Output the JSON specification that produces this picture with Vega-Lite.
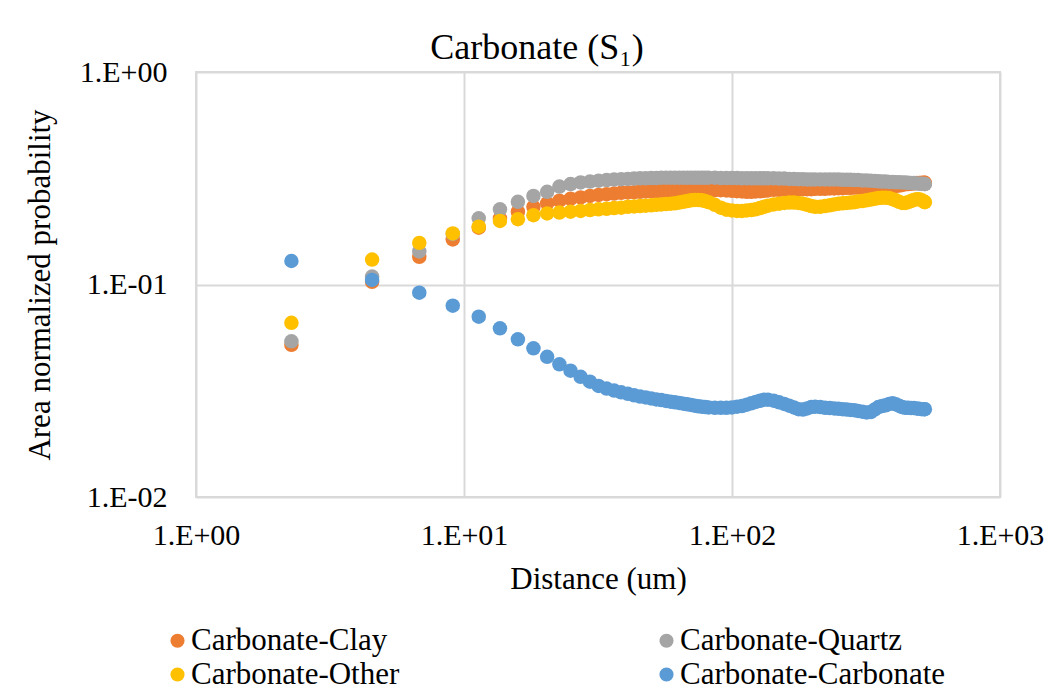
{
  "$schema": "https://vega.github.io/schema/vega-lite/v6.json",
  "width": 804,
  "height": 425,
  "autosize": {"type": "none"},
  "padding": {"left": 196, "top": 72, "right": 55, "bottom": 203},
  "background": "white",
  "title": {"text": "Carbonate (S₁)", "font": "Liberation Serif", "fontSize": 36, "fontWeight": "normal", "color": "black", "anchor": "middle", "dx": -61, "offset": -38, "baseline": "alphabetic"},
  "config": {
    "view": {"stroke": "#d9d9d9", "strokeWidth": 2},
    "axis": {"grid": true, "gridColor": "#d9d9d9", "gridWidth": 2, "ticks": false, "domain": false, "labelFont": "Liberation Serif", "labelFontSize": 30, "labelColor": "black", "titleFont": "Liberation Serif", "titleFontSize": 31, "titleFontWeight": "normal", "titleColor": "black", "labelFlush": false, "labelOverlap": false,
      "labelExpr": "'1.E' + (round(log(datum.value)/LN10) < 0 ? '-' : '+') + '0' + abs(round(log(datum.value)/LN10))"},
    "axisX": {"labelPadding": 23, "titlePadding": 14},
    "axisY": {"labelPadding": 29, "titlePadding": 23},
    "legend": {"orient": "none", "direction": "horizontal", "legendX": -34, "legendY": 553, "columns": 2, "columnPadding": 251, "rowPadding": 2, "symbolType": "circle", "symbolSize": 200, "symbolStrokeWidth": 0, "labelFont": "Liberation Serif", "labelFontSize": 31, "labelColor": "black", "labelOffset": -2, "labelLimit": 500, "title": null}
  },
  "data": {"values": [
    {"dist": 2.27, "clay": 0.052, "quartz": 0.054, "other": 0.066, "carb": 0.129},
    {"dist": 4.54, "clay": 0.103, "quartz": 0.109, "other": 0.131, "carb": 0.105},
    {"dist": 6.81, "clay": 0.135, "quartz": 0.143, "other": 0.157, "carb": 0.0915},
    {"dist": 9.08, "clay": 0.163, "quartz": 0.173, "other": 0.174, "carb": 0.0795},
    {"dist": 11.35, "clay": 0.185, "quartz": 0.205, "other": 0.187, "carb": 0.0706},
    {"dist": 13.62, "clay": 0.205, "quartz": 0.226, "other": 0.199, "carb": 0.0622},
    {"dist": 15.89, "clay": 0.220, "quartz": 0.245, "other": 0.203, "carb": 0.0552},
    {"dist": 18.16, "clay": 0.232, "quartz": 0.261, "other": 0.212, "carb": 0.0501},
    {"dist": 20.43, "clay": 0.241, "quartz": 0.273, "other": 0.216, "carb": 0.0457},
    {"dist": 22.7, "clay": 0.248, "quartz": 0.289, "other": 0.218, "carb": 0.0421},
    {"dist": 24.97, "clay": 0.253, "quartz": 0.297, "other": 0.220, "carb": 0.0393},
    {"dist": 27.24, "clay": 0.257, "quartz": 0.302, "other": 0.222, "carb": 0.0368},
    {"dist": 29.51, "clay": 0.261, "quartz": 0.305, "other": 0.224, "carb": 0.0349},
    {"dist": 31.78, "clay": 0.264, "quartz": 0.308, "other": 0.226, "carb": 0.0333},
    {"dist": 34.05, "clay": 0.266, "quartz": 0.310, "other": 0.227, "carb": 0.0324},
    {"dist": 36.32, "clay": 0.268, "quartz": 0.312, "other": 0.229, "carb": 0.0317},
    {"dist": 38.59, "clay": 0.270, "quartz": 0.313, "other": 0.230, "carb": 0.0311},
    {"dist": 40.86, "clay": 0.271, "quartz": 0.314, "other": 0.232, "carb": 0.0306},
    {"dist": 43.13, "clay": 0.272, "quartz": 0.315, "other": 0.233, "carb": 0.0301},
    {"dist": 45.4, "clay": 0.273, "quartz": 0.316, "other": 0.234, "carb": 0.0297},
    {"dist": 47.67, "clay": 0.274, "quartz": 0.316, "other": 0.235, "carb": 0.0294},
    {"dist": 49.94, "clay": 0.275, "quartz": 0.317, "other": 0.236, "carb": 0.0291},
    {"dist": 52.21, "clay": 0.275, "quartz": 0.317, "other": 0.237, "carb": 0.0288},
    {"dist": 54.48, "clay": 0.276, "quartz": 0.318, "other": 0.238, "carb": 0.0286},
    {"dist": 56.75, "clay": 0.276, "quartz": 0.318, "other": 0.239, "carb": 0.0283},
    {"dist": 59.02, "clay": 0.277, "quartz": 0.318, "other": 0.240, "carb": 0.0281},
    {"dist": 61.29, "clay": 0.277, "quartz": 0.318, "other": 0.241, "carb": 0.0279},
    {"dist": 63.56, "clay": 0.278, "quartz": 0.318, "other": 0.243, "carb": 0.0277},
    {"dist": 65.83, "clay": 0.278, "quartz": 0.318, "other": 0.245, "carb": 0.0275},
    {"dist": 68.1, "clay": 0.279, "quartz": 0.318, "other": 0.247, "carb": 0.0273},
    {"dist": 70.37, "clay": 0.279, "quartz": 0.318, "other": 0.249, "carb": 0.0271},
    {"dist": 72.64, "clay": 0.279, "quartz": 0.318, "other": 0.250, "carb": 0.0269},
    {"dist": 74.91, "clay": 0.279, "quartz": 0.318, "other": 0.250, "carb": 0.0267},
    {"dist": 77.18, "clay": 0.279, "quartz": 0.318, "other": 0.249, "carb": 0.0266},
    {"dist": 79.45, "clay": 0.279, "quartz": 0.318, "other": 0.247, "carb": 0.0265},
    {"dist": 81.72, "clay": 0.279, "quartz": 0.318, "other": 0.244, "carb": 0.0264},
    {"dist": 86.26, "clay": 0.278, "quartz": 0.318, "other": 0.237, "carb": 0.0263},
    {"dist": 90.8, "clay": 0.278, "quartz": 0.317, "other": 0.230, "carb": 0.0263},
    {"dist": 95.34, "clay": 0.277, "quartz": 0.317, "other": 0.225, "carb": 0.0263},
    {"dist": 99.88, "clay": 0.276, "quartz": 0.317, "other": 0.223, "carb": 0.0264},
    {"dist": 104.42, "clay": 0.275, "quartz": 0.317, "other": 0.222, "carb": 0.0266},
    {"dist": 108.96, "clay": 0.274, "quartz": 0.316, "other": 0.222, "carb": 0.0268},
    {"dist": 113.5, "clay": 0.273, "quartz": 0.316, "other": 0.223, "carb": 0.0272},
    {"dist": 118.04, "clay": 0.273, "quartz": 0.316, "other": 0.224, "carb": 0.0276},
    {"dist": 122.58, "clay": 0.274, "quartz": 0.316, "other": 0.226, "carb": 0.0280},
    {"dist": 127.12, "clay": 0.275, "quartz": 0.316, "other": 0.229, "carb": 0.0284},
    {"dist": 131.66, "clay": 0.276, "quartz": 0.316, "other": 0.232, "carb": 0.0287},
    {"dist": 136.2, "clay": 0.277, "quartz": 0.316, "other": 0.235, "carb": 0.0287},
    {"dist": 143.01, "clay": 0.279, "quartz": 0.316, "other": 0.238, "carb": 0.0284},
    {"dist": 149.82, "clay": 0.279, "quartz": 0.315, "other": 0.240, "carb": 0.0279},
    {"dist": 156.63, "clay": 0.280, "quartz": 0.315, "other": 0.242, "carb": 0.0274},
    {"dist": 163.44, "clay": 0.280, "quartz": 0.314, "other": 0.243, "carb": 0.0269},
    {"dist": 170.25, "clay": 0.280, "quartz": 0.314, "other": 0.243, "carb": 0.0264},
    {"dist": 177.06, "clay": 0.281, "quartz": 0.313, "other": 0.242, "carb": 0.0259},
    {"dist": 183.87, "clay": 0.281, "quartz": 0.313, "other": 0.240, "carb": 0.0258},
    {"dist": 190.68, "clay": 0.281, "quartz": 0.312, "other": 0.237, "carb": 0.0261},
    {"dist": 197.49, "clay": 0.281, "quartz": 0.312, "other": 0.234, "carb": 0.0265},
    {"dist": 204.3, "clay": 0.282, "quartz": 0.312, "other": 0.232, "carb": 0.0266},
    {"dist": 213.38, "clay": 0.282, "quartz": 0.312, "other": 0.232, "carb": 0.0265},
    {"dist": 222.46, "clay": 0.282, "quartz": 0.312, "other": 0.234, "carb": 0.0263},
    {"dist": 231.54, "clay": 0.283, "quartz": 0.312, "other": 0.236, "carb": 0.0262},
    {"dist": 240.62, "clay": 0.283, "quartz": 0.312, "other": 0.238, "carb": 0.0261},
    {"dist": 249.7, "clay": 0.284, "quartz": 0.312, "other": 0.240, "carb": 0.0260},
    {"dist": 258.78, "clay": 0.284, "quartz": 0.311, "other": 0.241, "carb": 0.0259},
    {"dist": 267.86, "clay": 0.285, "quartz": 0.311, "other": 0.242, "carb": 0.0258},
    {"dist": 276.94, "clay": 0.285, "quartz": 0.311, "other": 0.243, "carb": 0.0257},
    {"dist": 286.02, "clay": 0.286, "quartz": 0.310, "other": 0.244, "carb": 0.0256},
    {"dist": 295.1, "clay": 0.286, "quartz": 0.310, "other": 0.246, "carb": 0.0254},
    {"dist": 306.45, "clay": 0.286, "quartz": 0.309, "other": 0.247, "carb": 0.0252},
    {"dist": 317.8, "clay": 0.287, "quartz": 0.309, "other": 0.249, "carb": 0.0250},
    {"dist": 329.15, "clay": 0.287, "quartz": 0.308, "other": 0.251, "carb": 0.0251},
    {"dist": 340.5, "clay": 0.287, "quartz": 0.307, "other": 0.253, "carb": 0.0258},
    {"dist": 351.85, "clay": 0.288, "quartz": 0.306, "other": 0.255, "carb": 0.0265},
    {"dist": 363.2, "clay": 0.288, "quartz": 0.305, "other": 0.256, "carb": 0.0268},
    {"dist": 374.55, "clay": 0.289, "quartz": 0.305, "other": 0.256, "carb": 0.0270},
    {"dist": 385.9, "clay": 0.289, "quartz": 0.304, "other": 0.255, "carb": 0.0274},
    {"dist": 397.25, "clay": 0.290, "quartz": 0.304, "other": 0.252, "carb": 0.0276},
    {"dist": 408.6, "clay": 0.291, "quartz": 0.303, "other": 0.249, "carb": 0.0273},
    {"dist": 419.95, "clay": 0.292, "quartz": 0.303, "other": 0.245, "carb": 0.0269},
    {"dist": 431.3, "clay": 0.294, "quartz": 0.302, "other": 0.242, "carb": 0.0265},
    {"dist": 442.65, "clay": 0.296, "quartz": 0.302, "other": 0.242, "carb": 0.0263},
    {"dist": 454, "clay": 0.297, "quartz": 0.301, "other": 0.244, "carb": 0.0263},
    {"dist": 465.35, "clay": 0.298, "quartz": 0.300, "other": 0.247, "carb": 0.0262},
    {"dist": 476.7, "clay": 0.299, "quartz": 0.300, "other": 0.250, "carb": 0.0262},
    {"dist": 488.05, "clay": 0.300, "quartz": 0.299, "other": 0.252, "carb": 0.0261},
    {"dist": 499.4, "clay": 0.300, "quartz": 0.298, "other": 0.252, "carb": 0.0260},
    {"dist": 510.75, "clay": 0.301, "quartz": 0.298, "other": 0.249, "carb": 0.0259},
    {"dist": 522.1, "clay": 0.301, "quartz": 0.297, "other": 0.245, "carb": 0.0259},
    {"dist": 524.37, "clay": 0.301, "quartz": 0.297, "other": 0.244, "carb": 0.0259}
  ]},
  "encoding": {
    "x": {"field": "dist", "type": "quantitative", "scale": {"type": "log", "domain": [1, 1000], "nice": false}, "title": "Distance (um)", "axis": {"values": [1, 10, 100, 1000]}}
  },
  "layer": [
    {"mark": {"type": "circle", "size": 210, "opacity": 1},
     "encoding": {
       "y": {"field": "clay", "type": "quantitative", "scale": {"type": "log", "domain": [0.01, 1], "nice": false}, "title": "Area normalized probability", "axis": {"values": [0.01, 0.1, 1]}},
       "color": {"datum": "Carbonate-Clay", "type": "nominal", "scale": {"domain": ["Carbonate-Clay", "Carbonate-Quartz", "Carbonate-Other", "Carbonate-Carbonate"], "range": ["#ED7D31", "#A5A5A5", "#FFC000", "#5B9BD5"]}}
     }},
    {"mark": {"type": "circle", "size": 210, "opacity": 1},
     "encoding": {
       "y": {"field": "quartz", "type": "quantitative", "title": "Area normalized probability", "axis": {"values": [0.01, 0.1, 1]}},
       "color": {"datum": "Carbonate-Quartz", "type": "nominal"}
     }},
    {"mark": {"type": "circle", "size": 210, "opacity": 1},
     "encoding": {
       "y": {"field": "other", "type": "quantitative", "title": "Area normalized probability", "axis": {"values": [0.01, 0.1, 1]}},
       "color": {"datum": "Carbonate-Other", "type": "nominal"}
     }},
    {"mark": {"type": "circle", "size": 210, "opacity": 1},
     "encoding": {
       "y": {"field": "carb", "type": "quantitative", "title": "Area normalized probability", "axis": {"values": [0.01, 0.1, 1]}},
       "color": {"datum": "Carbonate-Carbonate", "type": "nominal"}
     }}
  ]
}
